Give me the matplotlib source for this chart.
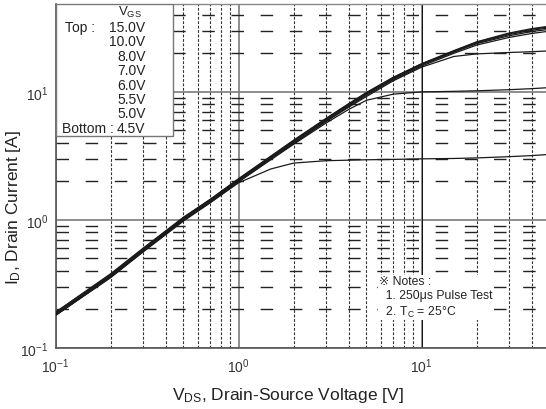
import numpy as np
import matplotlib.pyplot as plt
from matplotlib.ticker import LogLocator, FixedLocator, NullFormatter

plt.rcParams['font.family'] = ['Liberation Sans', 'DejaVu Sans']
plt.rcParams['mathtext.fontset'] = 'custom'
plt.rcParams['mathtext.rm'] = 'Liberation Sans'
plt.rcParams['mathtext.it'] = 'Liberation Sans'
plt.rcParams['mathtext.default'] = 'regular'

# ---------------- data ----------------
vds = [0.1, 0.2, 0.3, 0.5, 0.7, 1, 1.5, 2, 3, 4, 5, 7, 10, 15, 20, 30, 40, 50]

id_15v = [0.19, 0.38, 0.60, 1.05, 1.45, 2.10, 3.15, 4.20, 6.2, 8.1, 9.9, 13.0, 16.6, 21.0, 24.6, 28.8, 31.2, 32.6]
id_10v = [0.19, 0.375, 0.59, 1.04, 1.44, 2.08, 3.12, 4.15, 6.15, 8.0, 9.8, 12.9, 16.5, 20.8, 24.4, 28.4, 30.8, 32.2]
id_8v = [0.185, 0.37, 0.585, 1.03, 1.42, 2.06, 3.10, 4.10, 6.1, 7.95, 9.7, 12.8, 16.4, 20.6, 24.1, 28.0, 30.3, 31.6]
id_7v = [0.185, 0.365, 0.58, 1.02, 1.41, 2.04, 3.05, 4.05, 6.0, 7.85, 9.6, 12.6, 16.2, 20.4, 23.8, 27.4, 29.6, 30.8]
id_6v = [0.18, 0.36, 0.57, 1.00, 1.38, 2.00, 3.00, 3.95, 5.9, 7.7, 9.4, 12.4, 15.9, 20.0, 23.2, 26.6, 28.6, 29.8]
id_55v = [0.18, 0.36, 0.57, 1.00, 1.38, 2.00, 2.98, 3.95, 5.85, 7.6, 9.2, 12.2, 15.6, 18.9, 19.8, 20.3, 20.6, 20.9]
id_5v = [0.18, 0.355, 0.565, 0.99, 1.37, 1.98, 2.95, 3.90, 5.7, 7.3, 8.6, 9.6, 10.0, 10.1, 10.2, 10.4, 10.6, 10.8]
id_45v = [0.18, 0.355, 0.56, 0.98, 1.36, 1.95, 2.50, 2.78, 2.90, 2.93, 2.95, 2.97, 3.00, 3.02, 3.05, 3.12, 3.18, 3.25]

curves = [id_15v, id_10v, id_8v, id_7v, id_6v, id_55v, id_5v, id_45v]
vgs_labels = ['15.0V', '10.0V', '8.0V', '7.0V', '6.0V', '5.5V', '5.0V', '4.5V']

x_major = [0.1, 1, 10]
y_major = [0.1, 1, 10]
tick_labels = [r'$10^{-1}$', r'$10^{0}$', r'$10^{1}$']

# ------------------------------ plot -----------------------------------
W, H = 546, 410
fig = plt.figure(figsize=(W / 100, H / 100), dpi=100)
left, right, top, bottom = 55.5, 549.5, 4.5, 349
ax = fig.add_axes([left / W, 1 - bottom / H, (right - left) / W, (bottom - top) / H])

ax.set_xscale('log')
ax.set_yscale('log')
ax.set_xlim(0.1, 50)
ax.set_ylim(0.1, 49)

# grid
ax.xaxis.set_major_locator(FixedLocator(x_major))
ax.yaxis.set_major_locator(FixedLocator(y_major))
ax.xaxis.set_minor_locator(LogLocator(base=10, subs=np.arange(2, 10)))
ax.yaxis.set_minor_locator(LogLocator(base=10, subs=np.arange(2, 10)))
ax.xaxis.set_minor_formatter(NullFormatter())
ax.yaxis.set_minor_formatter(NullFormatter())

ax.grid(True, which='major', axis='both', color='#7a7a7a', lw=1.2, ls='-')
ax.grid(True, which='minor', axis='x', color='#333333', lw=0.8, ls=(0, (2.5, 1.5)))
ax.grid(True, which='minor', axis='y', color='#222222', lw=1.0, ls=(0, (9, 12)))
ax.axvline(10, color='#111111', lw=0.7, zorder=1)
ax.set_axisbelow(True)

for yv in curves:
    ax.plot(vds, yv, color='#1a1a1a', lw=0.9, zorder=3)

ax.set_xticklabels(tick_labels)
ax.set_yticklabels(tick_labels)
ax.tick_params(which='both', length=0, labelsize=10, colors='#333333')
ax.tick_params(axis='x', pad=6)
ax.tick_params(axis='y', pad=5)

for s in ['top', 'right']:
    ax.spines[s].set_visible(False)
for s in ['left', 'bottom']:
    ax.spines[s].set_color('#555555')
    ax.spines[s].set_linewidth(1.2)
ax.plot([0, 1], [1, 1], transform=ax.transAxes, color='#888888', lw=1.0, clip_on=False)

fig.text(288 / W, 1 - 396 / H, r'V$_{DS}$, Drain-Source Voltage [V]', fontsize=12.5,
         color='#222222', ha='center', va='center')
fig.text(14 / W, 1 - 207 / H, r'I$_{D}$, Drain Current [A]', fontsize=12.5, rotation=90,
         color='#222222', ha='center', va='center')


def fx(px):
    return (px - left) / (right - left)


def fy(py):
    return 1 - (py - top) / (bottom - top)


# V_GS legend box
box = plt.Rectangle((0, fy(136.5)), fx(172.5), 1 - fy(136.5), transform=ax.transAxes,
                    fc='white', ec='#777777', lw=1.0, zorder=4)
ax.add_patch(box)

ax.text(fx(130), fy(12), r'V$_{GS}$', fontsize=9.5, ha='center', va='center',
        transform=ax.transAxes, zorder=5, color='#222222')
for i, lab in enumerate(vgs_labels):
    ax.text(fx(145.5), fy(28 + i * 14.4), lab, fontsize=10, ha='right', va='center',
            transform=ax.transAxes, zorder=5, color='#222222')
ax.text(fx(65), fy(28), 'Top :', fontsize=10, ha='left', va='center',
        transform=ax.transAxes, zorder=5, color='#222222')
ax.text(fx(62), fy(28 + 7 * 14.4), 'Bottom :', fontsize=10, ha='left', va='center',
        transform=ax.transAxes, zorder=5, color='#222222')

# notes
ax.text(fx(379), fy(298), '\u203b Notes :\n  1. 250\u03bcs Pulse Test\n  2. T$_C$ = 25\u00b0C', fontsize=8.8,
        ha='left', va='center', transform=ax.transAxes, zorder=5, color='#222222',
        linespacing=1.25, bbox=dict(fc='white', ec='none', pad=1))

fig.savefig('out.png', dpi=100)
